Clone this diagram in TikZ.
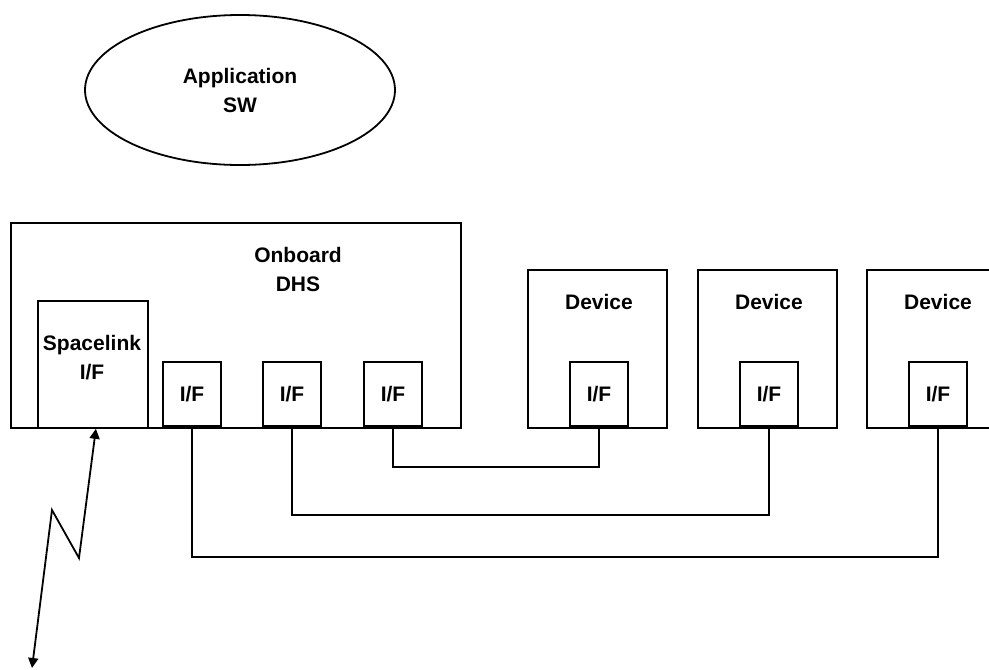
\documentclass[tikz,border=0pt]{standalone}
\usepackage{fontspec}
\setmainfont{Liberation Sans}
\usetikzlibrary{shapes.geometric,arrows.meta}
\begin{document}
\begin{tikzpicture}
[x=1pt,y=-1pt,
  boxdecorate/.style={shape=rectangle,draw,line width=1.8pt,inner sep=0pt},
  ifdecorate/.style={boxdecorate,minimum width=58pt,minimum height=64pt,anchor=south},
  textdecorate/.style={font=\bfseries\fontsize{21}{29}\selectfont,align=center},
  linedecorate/.style={-,line width=1.8pt},
  linkdecorate/.style={<->,>={Triangle[width=10pt,length=10pt]},line width=1.8pt}]
\clip (0,0) rectangle (989,670);
%% application software
\node (app) at (240,90) [shape=ellipse,draw,line width=1.8pt,minimum width=310pt,
  minimum height=150pt,inner sep=0pt,textdecorate] {Application\\SW};
%% onboard DHS and its interfaces
\node (dhs) at (10,222) [boxdecorate,anchor=north west,minimum width=450pt,minimum height=205pt] {};
\node (dhslabel) at (298,269) [textdecorate] {Onboard\\DHS};
\node (spl) at (37,300) [boxdecorate,anchor=north west,minimum width=110pt,minimum height=127pt] {};
\node (spllabel) at (92,358) [textdecorate] {Spacelink\\I/F};
\foreach \nodename/\x in {if1/192, if2/292, if3/393} {
  \node (\nodename) at (\x,427) [ifdecorate,textdecorate] {I/F};
}
%% devices
\foreach \nodename/\x in {a/527, b/697, c/866} {
  \node (dev\nodename) at (\x,269) [boxdecorate,anchor=north west,minimum width=139pt,minimum height=158pt] {};
  \node (devlabel\nodename) at (\x+72,302) [textdecorate] {Device};
  \node (devif\nodename) at (\x+72,427) [ifdecorate,textdecorate] {I/F};
}
%% buses
\foreach \startnode/\endnode/\depth in {if3/devifa/40, if2/devifb/88, if1/devifc/130} {
  \draw[linedecorate] (\startnode.south) -- ++(0,\depth) -| (\endnode.south);
}
%% space link
\coordinate (ground) at (32,668);
\draw[linkdecorate] (ground) -- (52,510) -- (79,558) -- ([xshift=3pt]spl.south);
\end{tikzpicture}
\end{document}
